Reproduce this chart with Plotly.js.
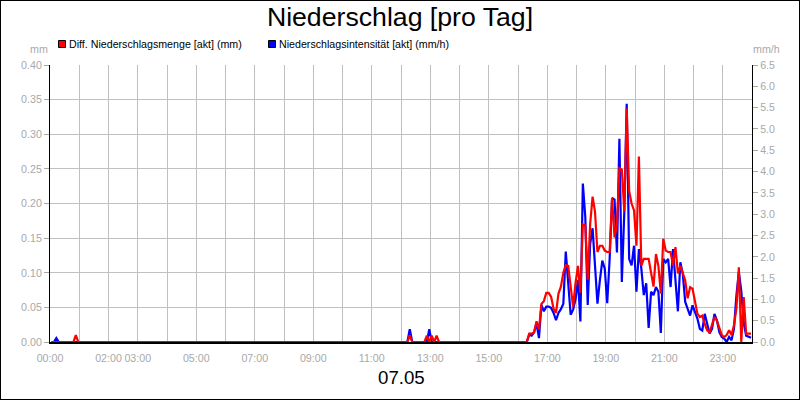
<!DOCTYPE html>
<html>
<head>
<meta charset="utf-8">
<script src="https://cdn.plot.ly/plotly-3.0.1.min.js"></script>
<style>
  html, body { margin: 0; padding: 0; background: #fff; }
  #myDiv { width: 798px; height: 398px; border: 1px solid #000; }
</style>
</head>
<body>
<div id="myDiv"></div>
<script>
var DAY = '2024-05-07';
var NEXT_DAY = '2024-05-08';

// samples every 5 minutes, at :03 :08 :13 ... :58 of each hour (one row per hour)
var sampleMinutes = [3, 8, 13, 18, 23, 28, 33, 38, 43, 48, 53, 58];

// Diff. Niederschlagsmenge [akt] (mm)
var mengeMm = [
  /*00*/ 0,0,0,0,0,0,0,0,0,0,0.010,0,
  /*01*/ 0,0,0,0,0,0,0,0,0,0,0,0,
  /*02*/ 0,0,0,0,0,0,0,0,0,0,0,0,
  /*03*/ 0,0,0,0,0,0,0,0,0,0,0,0,
  /*04*/ 0,0,0,0,0,0,0,0,0,0,0,0,
  /*05*/ 0,0,0,0,0,0,0,0,0,0,0,0,
  /*06*/ 0,0,0,0,0,0,0,0,0,0,0,0,
  /*07*/ 0,0,0,0,0,0,0,0,0,0,0,0,
  /*08*/ 0,0,0,0,0,0,0,0,0,0,0,0,
  /*09*/ 0,0,0,0,0,0,0,0,0,0,0,0,
  /*10*/ 0,0,0,0,0,0,0,0,0,0,0,0,
  /*11*/ 0,0,0,0,0,0,0,0,0,0,0,0,
  /*12*/ 0,0,0,0.010,0,0,0,0,0,0,0.009,0,
  /*13*/ 0.009,0,0.009,0,0,0,0,0,0,0,0,0,
  /*14*/ 0,0,0,0,0,0,0,0,0,0,0,0,
  /*15*/ 0,0,0,0,0,0,0,0,0,0,0,0,
  /*16*/ 0,0,0,0,0.012,0.012,0.014,0.030,0.018,0.055,0.059,0.071,
  /*17*/ 0.071,0.065,0.048,0.042,0.070,0.080,0.100,0.111,0.110,0.080,0.051,0.085,
  /*18*/ 0.110,0.071,0.170,0.168,0.090,0.170,0.210,0.188,0.130,0.139,0.139,0.132,
  /*19*/ 0.130,0.130,0.208,0.151,0.170,0.251,0.249,0.189,0.337,0.218,0.200,0.190,
  /*20*/ 0.139,0.268,0.110,0.120,0.120,0.120,0.100,0.080,0.127,0.110,0.070,0.149,
  /*21*/ 0.132,0.130,0.130,0.110,0.137,0.099,0.110,0.099,0.089,0.063,0.079,0.077,
  /*22*/ 0.060,0.041,0.036,0.038,0.026,0.017,0.014,0.024,0.036,0.031,0.019,0.010,
  /*23*/ 0.007,0.010,0.017,0.010,0.024,0.048,0.108,0,0.065,0.012,0.012,0.012
];

// Niederschlagsintensität [akt] (mm/h)
var intensitaetMmH = [
  /*00*/ 0,0,0.09,0,0,0,0,0,0,0,0,0,
  /*01*/ 0,0,0,0,0,0,0,0,0,0,0,0,
  /*02*/ 0,0,0,0,0,0,0,0,0,0,0,0,
  /*03*/ 0,0,0,0,0,0,0,0,0,0,0,0,
  /*04*/ 0,0,0,0,0,0,0,0,0,0,0,0,
  /*05*/ 0,0,0,0,0,0,0,0,0,0,0,0,
  /*06*/ 0,0,0,0,0,0,0,0,0,0,0,0,
  /*07*/ 0,0,0,0,0,0,0,0,0,0,0,0,
  /*08*/ 0,0,0,0,0,0,0,0,0,0,0,0,
  /*09*/ 0,0,0,0,0,0,0,0,0,0,0,0,
  /*10*/ 0,0,0,0,0,0,0,0,0,0,0,0,
  /*11*/ 0,0,0,0,0,0,0,0,0,0,0,0,
  /*12*/ 0,0,0,0.30,0,0,0,0,0,0,0,0.30,
  /*13*/ 0,0,0,0,0,0,0,0,0,0,0,0,
  /*14*/ 0,0,0,0,0,0,0,0,0,0,0,0,
  /*15*/ 0,0,0,0,0,0,0,0,0,0,0,0,
  /*16*/ 0,0,0,0,0.17,0.15,0.23,0.44,0.09,0.87,0.72,0.83,
  /*17*/ 0.83,0.80,0.68,0.51,0.68,0.77,0.90,2.12,1.38,0.64,0.76,1.00,
  /*18*/ 1.46,0.48,3.72,2.94,0.87,2.30,2.67,1.80,0.90,1.45,1.91,1.72,
  /*19*/ 0.91,1.95,3.38,3.34,2.10,4.77,1.41,3.03,5.59,1.95,1.80,2.26,
  /*20*/ 1.18,2.18,1.72,1.10,1.38,0.33,1.18,1.10,1.29,1.18,0.21,1.95,
  /*21*/ 1.87,1.95,1.29,2.18,1.41,0.72,1.87,1.60,0.94,0.78,0.62,0.86,
  /*22*/ 0.70,0.55,0.31,0.27,0.66,0.39,0.20,0.31,0.66,0.51,0.23,0.12,
  /*23*/ 0.08,0,0.12,0.04,0.31,1.09,1.64,1.20,0.45,0.15,0.12,0.10
];

var hourLabels = ['00:00','','02:00','03:00','','05:00','','07:00','','09:00','','11:00',
                  '','13:00','','15:00','','17:00','','19:00','','21:00','','23:00'];
var tickedHours = [0, 2, 4, 6, 8, 10, 12, 14, 16, 18, 20, 22];

function pad(n) { return (n < 10 ? '0' : '') + n; }
function hourStamp(h) { return DAY + ' ' + pad(h) + ':00'; }

var times = [];
for (var h = 0; h < 24; h++) {
  for (var i = 0; i < sampleMinutes.length; i++) {
    times.push(DAY + ' ' + pad(h) + ':' + pad(sampleMinutes[i]));
  }
}

// page pixel -> paper coords (plot area spans x 50..752, y 65..342 on the page)
function px(X) { return (X - 50) / 702; }
function py(Y) { return (342 - Y) / 277; }

var FONT = 'Arial, "Liberation Sans", sans-serif';
var GREY = '#a8a8a8';

var blue = {
  x: times, y: intensitaetMmH,
  xaxis: 'x', yaxis: 'y',
  type: 'scatter', mode: 'lines',
  name: 'Niederschlagsintensität [akt] (mm/h)',
  line: {color: '#0000ff', width: 2.2}
};

var red = {
  x: times, y: mengeMm,
  xaxis: 'x', yaxis: 'y2',
  type: 'scatter', mode: 'lines',
  name: 'Diff. Niederschlagsmenge [akt] (mm)',
  line: {color: '#ff0000', width: 2.2}
};

var layout = {
  width: 798, height: 398,
  margin: {l: 49, r: 47, t: 64, b: 57},
  paper_bgcolor: '#ffffff',
  plot_bgcolor: '#ffffff',
  showlegend: false,
  font: {family: FONT, size: 10.67, color: GREY},
  title: {
    text: 'Niederschlag [pro Tag]',
    font: {family: FONT, size: 26.67, color: '#000000'},
    x: 0.5, xanchor: 'center',
    y: 1 - 16 / 398, yanchor: 'middle'
  },
  xaxis: {
    type: 'date',
    range: [DAY + ' 00:00', NEXT_DAY + ' 00:00'],
    tickmode: 'array',
    tickvals: hourLabels.map(function (_, k) { return hourStamp(k); }),
    ticktext: hourLabels,
    showgrid: true, gridcolor: '#c0c0c0', gridwidth: 1,
    ticks: 'outside', ticklen: 5, tickcolor: 'rgba(0,0,0,0)',
    tickfont: {family: FONT, size: 10.67, color: GREY},
    showline: true, linecolor: '#000000', linewidth: 2,
    zeroline: false
  },
  xaxis2: {
    type: 'date',
    overlaying: 'x', anchor: 'y',
    range: [DAY + ' 00:00', NEXT_DAY + ' 00:00'],
    tickmode: 'array',
    tickvals: tickedHours.map(hourStamp),
    showticklabels: false,
    showgrid: false,
    ticks: 'outside', ticklen: 5, tickcolor: GREY,
    showline: true, linecolor: '#000000', linewidth: 1, mirror: true,
    zeroline: false
  },
  yaxis: {
    side: 'right',
    range: [0, 6.5], tick0: 0, dtick: 0.5, tickformat: '.1f',
    showgrid: false,
    ticks: 'outside', ticklen: 5, tickcolor: GREY,
    tickfont: {family: FONT, size: 10.67, color: GREY},
    showline: true, linecolor: '#000000', linewidth: 1,
    zeroline: false
  },
  yaxis2: {
    overlaying: 'y', side: 'left', anchor: 'x',
    range: [0, 0.40], tick0: 0, dtick: 0.05, tickformat: '.2f',
    showgrid: true, gridcolor: '#c0c0c0', gridwidth: 1,
    ticks: 'outside', ticklen: 5, tickcolor: GREY,
    tickfont: {family: FONT, size: 10.67, color: GREY},
    showline: true, linecolor: '#000000', linewidth: 1,
    zeroline: false
  },
  shapes: [
    {type: 'rect', xref: 'paper', yref: 'paper',
     x0: px(58.5), x1: px(65.5), y0: py(47.5), y1: py(40.5),
     fillcolor: '#ff0000', line: {color: '#000000', width: 1}},
    {type: 'rect', xref: 'paper', yref: 'paper',
     x0: px(268.5), x1: px(275.5), y0: py(47.5), y1: py(40.5),
     fillcolor: '#0000ff', line: {color: '#000000', width: 1}}
  ],
  annotations: [
    {xref: 'paper', yref: 'paper', x: px(67), y: py(44), xanchor: 'left', yanchor: 'middle',
     showarrow: false, text: red.name, font: {family: FONT, size: 10.67, color: '#000000'}},
    {xref: 'paper', yref: 'paper', x: px(277), y: py(44), xanchor: 'left', yanchor: 'middle',
     showarrow: false, text: blue.name, font: {family: FONT, size: 10.67, color: '#000000'}},
    {xref: 'paper', yref: 'paper', x: px(50), y: py(49), xanchor: 'right', yanchor: 'middle',
     showarrow: false, text: 'mm', font: {family: FONT, size: 10.67, color: GREY}},
    {xref: 'paper', yref: 'paper', x: px(751), y: py(49), xanchor: 'left', yanchor: 'middle',
     showarrow: false, text: 'mm/h', font: {family: FONT, size: 10.67, color: GREY}},
    {xref: 'paper', yref: 'paper', x: 0.5, y: py(377), xanchor: 'center', yanchor: 'middle',
     showarrow: false, text: '07.05', font: {family: FONT, size: 18.67, color: '#000000'}}
  ]
};

Plotly.newPlot('myDiv', [blue, red], layout, {staticPlot: true, displayModeBar: false});
</script>
</body>
</html>
